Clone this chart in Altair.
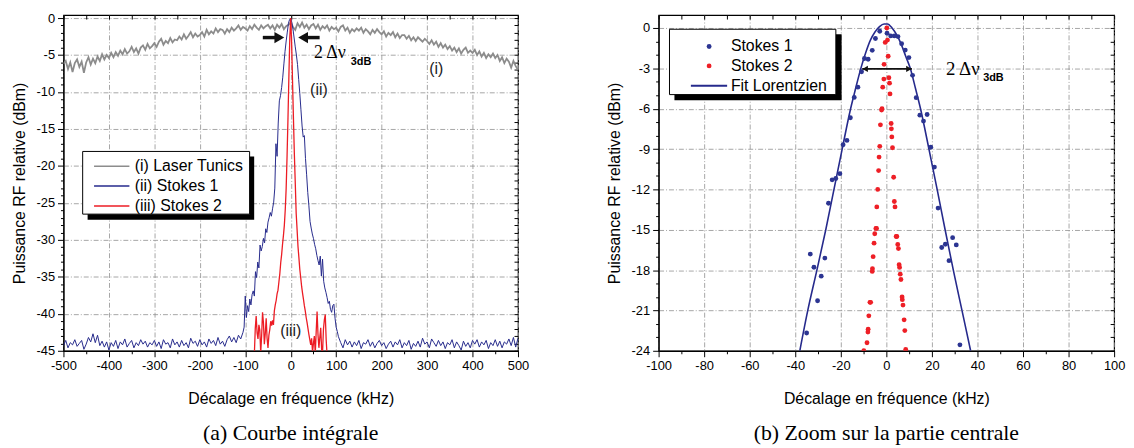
import altair as alt
import pandas as pd

SANS = "Liberation Sans"
SERIF = "Liberation Serif"
GRAY = "#8c8c8c"
BLUE = "#262a8c"
RED = "#ec1c24"
DOT_BLUE = "#2c3592"
DOT_RED = "#ee1f26"

# ---------------- panel (a) data ----------------
gray_khz = list(range(-500, 501, 5))
gray_db = [
    -6.2, -5.8, -6.9, -6.0, -7.3, -6.1, -5.6, -6.6, -5.9, -7.4,
    -6.0, -5.3, -6.3, -5.5, -6.1, -5.2, -5.8, -4.9, -5.6, -5.0,
    -5.4, -4.7, -5.3, -4.6, -5.1, -4.4, -4.9, -4.2, -4.8, -4.5,
    -3.9, -4.6, -4.1, -4.8, -4.0, -3.7, -4.3, -3.5, -4.1, -3.8,
    -3.4, -3.9, -3.2, -2.8, -3.6, -3.1, -3.4, -2.7, -3.3, -2.9,
    -3.0, -2.5, -2.9, -2.2, -2.8, -2.4, -1.9, -2.6, -2.1, -2.5,
    -2.3, -1.9, -2.5, -1.6, -2.2, -1.8, -2.1, -1.4, -1.9, -1.5,
    -1.6, -2.1, -1.5, -1.9, -1.3, -1.7, -1.4, -1.0, -1.6, -1.2,
    -1.4, -1.7, -1.1, -1.5, -0.9, -1.3, -1.6, -1.0, -1.4, -1.1,
    -0.9, -1.4, -1.0, -1.6, -0.9, -1.3, -0.8, -1.5, -1.1, -0.9,
    -0.6, -1.2, -1.6, -0.7, -1.2, -0.6, -1.3, -0.9, -1.5, -1.0,
    -0.8, -1.4, -0.9, -1.6, -1.1, -1.4, -1.0, -1.7, -1.2, -1.5,
    -1.3, -1.8, -1.2, -1.0, -1.7, -1.3, -2.0, -1.5, -1.8, -1.4,
    -1.7, -1.3, -2.0, -1.5, -1.8, -2.2, -1.6, -2.0, -1.5, -1.9,
    -2.2, -1.8, -2.5, -2.0, -2.3, -1.9, -2.6, -2.1, -2.7, -2.3,
    -2.3, -2.8, -2.4, -3.0, -2.6, -3.1, -2.6, -2.9, -3.2, -2.8,
    -3.1, -3.5, -3.0, -3.6, -3.2, -3.9, -3.4, -4.0, -3.6, -4.2,
    -3.8, -4.4, -4.0, -4.6, -4.1, -4.8, -4.3, -4.0, -4.7, -4.4,
    -4.7, -4.3, -5.0, -4.5, -5.2, -4.7, -5.4, -4.9, -5.3, -4.8,
    -5.4, -5.0, -5.8, -5.3, -6.1, -5.5, -5.9, -6.7, -5.8, -6.5,
    -7.0,
]

blue_left_khz = list(range(-500, -104, 5))
blue_left_db = [
    -44.3, -43.6, -44.6, -43.9, -44.2, -43.5, -44.4, -44.0, -43.6, -44.8,
    -44.1, -43.2, -43.8, -42.7, -43.9, -42.9, -44.3, -43.7, -44.5, -43.8,
    -44.9, -43.9, -44.4, -43.6, -44.7, -43.8, -44.2, -43.4, -44.5, -44.0,
    -43.6, -44.6, -43.9, -44.3, -43.5, -44.1, -43.7, -44.5, -43.9, -44.2,
    -43.6, -44.4, -43.8, -44.7, -43.5, -44.1, -43.9, -44.6, -43.4, -44.2,
    -43.8, -44.5, -43.6, -44.3, -43.9, -44.6, -43.3, -44.0, -43.7, -44.4,
    -43.5, -44.2, -43.8, -44.5, -43.4, -44.0, -43.6, -44.3, -43.2, -44.1,
    -43.7, -44.4, -43.5, -43.0, -43.8, -43.2, -43.9, -42.9, -43.4, -42.5,
]
blue_mid_khz = [i * 2.5 for i in range(-41, 42)]
blue_mid_db = [
    -41.8, -37.6, -40.5, -38.9, -39.7, -38.0, -38.8, -37.4, -36.9, -37.6,
    -34.3, -35.1, -33.0, -33.8, -30.7, -31.5, -30.9, -29.8, -30.4, -28.5,
    -29.0, -27.6, -27.0, -26.3, -26.8, -25.8, -24.9, -23.0, -17.0, -18.7,
    -14.2, -11.2, -10.5, -9.4, -8.0, -6.2, -4.5, -3.1, -1.9, -0.7,
    -0.2, 0.0, -0.6, -1.5, -2.7, -3.9, -5.0, -6.3, -8.3, -10.2,
    -12.4, -14.6, -16.1, -15.9, -19.0, -21.2, -23.6, -25.4, -27.5, -28.4,
    -29.2, -29.8, -30.6, -31.2, -32.1, -32.8, -33.4, -32.2, -34.9, -32.6,
    -35.6, -36.5, -37.1, -37.8, -38.6, -38.3, -39.4, -39.8, -38.9, -38.7,
    -40.6, -41.8, -42.4,
]
blue_right_khz = list(range(105, 501, 5))
blue_right_db = [
    -43.1, -43.9, -44.6, -43.5, -44.2, -43.7, -44.5, -43.8, -44.3, -43.6,
    -44.7, -43.9, -44.1, -43.5, -44.4, -43.8, -44.6, -44.0, -43.6, -44.3,
    -43.9, -44.7, -44.1, -43.7, -44.5, -43.8, -44.2, -43.5, -44.6, -43.9,
    -44.3, -43.6, -44.8, -44.0, -44.4, -43.7, -44.5, -43.3, -44.1, -43.8,
    -44.6, -43.4, -43.9, -44.4, -43.6, -44.3, -43.8, -44.7, -43.9, -44.2,
    -43.5, -44.6, -43.8, -44.3, -44.9, -43.7, -44.4, -43.9, -44.6, -43.6,
    -44.1, -43.5, -44.5, -43.8, -44.2, -43.6, -44.7, -43.9, -44.3, -43.5,
    -44.4, -43.7, -44.6, -43.8, -44.1, -43.4, -44.3, -43.2, -44.5, -43.3,
]
red_khz = list(range(-80, 81, 2))
red_db = [
    -45.5, -42.0, -40.3, -42.6, -43.4, -41.5, -42.2, -45.3, -43.0, -39.8,
    -41.2, -44.1, -42.7, -40.6, -43.3, -44.6, -42.9, -42.1, -41.0, -41.6,
    -40.9, -41.5, -39.6, -38.8, -38.2, -37.3, -36.8, -35.7, -34.6, -33.1,
    -32.0, -30.6, -29.4, -28.0, -25.9, -23.0, -18.6, -13.5, -7.8, -2.6,
    0.0, -3.4, -8.6, -13.6, -18.4, -22.3, -26.4, -28.6, -30.9, -32.4,
    -34.0, -35.1, -36.3, -37.2, -38.0, -38.9, -39.6, -40.5, -41.2, -42.0,
    -42.8, -43.5, -44.2, -43.3, -45.2, -44.0, -43.0, -45.4, -42.5, -39.7,
    -42.8, -44.6, -43.2, -41.9, -44.8, -45.3, -42.1, -40.8, -40.1, -43.5,
    -45.6,
]

legend_a_labels = ["(i) Laser Tunics", "(ii) Stokes 1", "(iii) Stokes 2"]
legend_a_colors = [GRAY, BLUE, RED]
tag_text = ["(i)", "(ii)", "(iii)"]
tag_khz = [320, 62, 0]
tag_db = [-6.9, -9.7, -42.3]
arrow_a_x = [-61.4, 27.2]
arrow_a_x2 = [-25.0, 63.6]
arrow_a_db = [-2.64, -2.64]
head_a_x = [-25.0, 27.2]
head_a_shape = ["triangle-right", "triangle-left"]
note_a_main = ["2 \u0394\u03bd"]
note_a_main_pos = [51.0, -4.78]
note_a_sub = ["3dB"]
note_a_sub_pos = [132.0, -5.98]

# ---------------- panel (b) data ----------------
s1_khz = [-35.0, -33.4, -31.8, -30.2, -28.6, -27.0, -25.4, -23.8, -22.2, -20.4,
          -19.0, -17.3, -15.8, -14.1, -12.5, -10.9, -9.6, -8.0, -6.2, -4.8,
          -2.9, 0.3, 1.9, 3.5, 5.1, 6.7, 8.3, 9.9, 11.5, 13.1,
          14.7, 16.3, 17.9, 19.5, 21.1, 22.7, 24.3, 25.9, 27.5, 29.1,
          30.7, 32.3]
s1_db = [-22.68, -16.81, -17.79, -20.28, -18.45, -17.11, -13.03, -11.29, -11.19, -10.83,
         -8.68, -8.36, -6.67, -5.16, -4.40, -3.25, -2.27, -2.32, -1.66, -0.78,
         -0.24, -0.39, -0.59, -0.59, -0.64, -1.17, -1.64, -2.20, -3.52, -5.18,
         -6.48, -6.92, -6.43, -8.87, -10.34, -13.39, -16.32, -16.08, -17.30, -15.59,
         -16.13, -23.56]
s2_khz = [0.2, -0.5, 0.5, 0.8, -1.0, 1.1, -1.1, 1.4, -1.6, 1.6,
          -1.9, -2.1, 2.1, 2.2, 2.4, 2.7, -2.6, -2.9, -3.2, -3.4,
          -3.8, -4.2, 3.2, 3.5, 3.8, -4.6, -4.3, -5.1, -5.4, -5.8,
          -6.1, -6.2, 4.3, 4.6, 5.0, 5.3, 5.6, 5.8, 6.1, 6.4,
          -7.2, -6.9, -7.7, -8.0, -8.1, -8.5, -9.9, 6.9, 7.0, 7.3,
          7.8, 8.1, 8.5]
s2_db = [0.0, -1.07, -0.90, -2.10, -2.70, -3.70, -3.80, -4.10, -4.40, -4.90,
         -6.00, -6.10, -7.10, -7.50, -8.10, -8.90, -7.20, -8.80, -9.60, -10.60,
         -12.00, -13.30, -11.10, -12.90, -13.30, -14.90, -14.90, -15.30, -16.00, -17.00,
         -17.90, -18.10, -15.50, -15.50, -16.10, -16.40, -17.60, -17.80, -18.30, -18.70,
         -20.40, -20.40, -21.40, -22.40, -22.60, -23.40, -24.00, -20.00, -20.20, -20.60,
         -21.70, -22.50, -23.90]
fit_khz = [-38.0, -34.5, -30.5, -26.6, -23.0, -19.4, -15.7, -13.5, -11.2, -9.0,
           -7.0, -5.0, -3.0, -1.0, 0.5, 2.5, 4.5, 6.5, 8.5, 10.5,
           12.8, 15.0, 18.7, 22.3, 25.8, 29.4, 33.2, 37.0]
fit_db = [-24.0, -21.0, -18.0, -15.0, -12.0, -9.0, -6.0, -4.5, -3.0, -1.8,
          -0.9, -0.3, 0.1, 0.3, 0.3, 0.0, -0.5, -1.2, -2.1, -3.0,
          -4.5, -6.0, -9.0, -12.0, -15.0, -18.0, -21.0, -24.0]
legend_b_labels = ["Stokes 1", "Stokes 2", "Fit Lorentzien"]
arrow_b_x = [-10.6]
arrow_b_x2 = [11.2]
arrow_b_db = [-3.04]
head_b_x = [-9.3, 9.9]
head_b_shape = ["triangle-left", "triangle-right"]
note_b_main = ["2 \u0394\u03bd"]
note_b_main_pos = [26.2, -3.04]
note_b_sub = ["3dB"]
note_b_sub_pos = [42.5, -3.7]

captions = ["(a)  Courbe int\u00e9grale", "(b)  Zoom sur la partie centrale"]
x_title = "D\u00e9calage en fr\u00e9quence (kHz)"
y_title = "Puissance RF relative (dBm)"

# ---------------- helpers ----------------
def cond(test, a, b):
    return {"condition": {"test": test, "value": a}, "value": b}


def main_axes(x_vals, x_major, y_vals, y_major):
    tx = f"datum.value % {x_major} === 0"
    ty = f"datum.value % {y_major} === 0"
    common = dict(
        grid=True, gridColor="#8f8f8f", gridDash=[5, 2, 1, 2], gridWidth=0.8,
        domain=True, domainColor="black", domainWidth=1.2,
        tickColor="black", tickWidth=1,
        labelFont=SANS, labelFontSize=13, labelColor="black",
        labelOverlap=False, labelFlush=False,
        titleFont=SANS, titleFontSize=16, titleFontWeight="normal", titleColor="black",
    )
    xa = alt.Axis(values=x_vals, orient="bottom",
                  labelExpr=f"{tx} ? '' + datum.value : ''",
                  tickSize=cond(tx, 6, 3), gridOpacity=cond(tx, 1, 0),
                  labelPadding=3, title=x_title, titlePadding=18, **common)
    ya = alt.Axis(values=y_vals, orient="left",
                  labelExpr=f"{ty} ? '' + datum.value : ''",
                  tickSize=cond(ty, 6, 3), gridOpacity=cond(ty, 1, 0),
                  labelPadding=3, title=y_title, titlePadding=9, **common)
    return xa, ya


def mirror_axes(x_vals, y_vals):
    common = dict(labels=False, ticks=True, tickSize=4, offset=-4, tickColor="black",
                  tickWidth=1, domain=False, grid=False, title=None)
    return (alt.Axis(values=x_vals, orient="top", **common),
            alt.Axis(values=y_vals, orient="right", **common))


def panel(width, height, xdom, ydom, x_vals, x_major, y_vals, y_major, data_layers, caption):
    xs = alt.Scale(domain=xdom, nice=False, zero=False)
    ys = alt.Scale(domain=ydom, nice=False, zero=False)
    xa, ya = main_axes(x_vals, x_major, y_vals, y_major)
    mx, my = mirror_axes(x_vals, y_vals)
    frame_df = pd.DataFrame({"khz": xdom, "db": ydom})
    base_axes = alt.Chart(frame_df).mark_point(opacity=0).encode(
        x=alt.X("khz:Q", scale=xs, axis=xa), y=alt.Y("db:Q", scale=ys, axis=ya))
    mirror = alt.Chart(frame_df).mark_point(opacity=0).encode(
        x=alt.X("khz:Q", scale=xs, axis=mx), y=alt.Y("db:Q", scale=ys, axis=my))
    layers = [base_axes, mirror] + [f(xs, ys) for f in data_layers]
    return alt.layer(*layers).resolve_axis(x="independent", y="independent").properties(
        width=width, height=height,
        title=alt.TitleParams(caption, orient="bottom", anchor="middle", font=SERIF,
                              fontSize=22, fontWeight="normal", color="black", offset=17))


def xy(xs, ys, xf="khz", yf="db"):
    return dict(x=alt.X(f"{xf}:Q", scale=xs, axis=None), y=alt.Y(f"{yf}:Q", scale=ys, axis=None))


# ---------------- panel (a) layers ----------------
gray_df = pd.DataFrame({"khz": gray_khz, "db": gray_db})
blue_df = pd.DataFrame({"khz": blue_left_khz + blue_mid_khz + blue_right_khz,
                        "db": blue_left_db + blue_mid_db + blue_right_db})
red_df = pd.DataFrame({"khz": red_khz, "db": red_db})
tags_df = pd.DataFrame({"khz": tag_khz, "db": tag_db, "t": tag_text})
shaft_a_df = pd.DataFrame({"khz": arrow_a_x, "khz2": arrow_a_x2, "db": arrow_a_db})
head_a_df = pd.DataFrame({"khz": head_a_x, "db": arrow_a_db, "shape": head_a_shape})


def line_layer(df, color, width):
    return lambda xs, ys: alt.Chart(df).mark_line(color=color, strokeWidth=width, clip=True).encode(**xy(xs, ys))


def text_layer(texts, pos, font, size, weight="normal", align="left"):
    df = pd.DataFrame({"khz": [pos[0]], "db": [pos[1]], "t": texts})
    return lambda xs, ys: alt.Chart(df).mark_text(
        font=font, fontSize=size, fontWeight=weight, color="black", align=align, baseline="middle"
    ).encode(text="t:N", **xy(xs, ys))


def legend_layers(box, shadow, rows, items):
    """box/shadow: (x, y, x2, y2) in pixels within the plot; items: (kind, color, label)."""
    out = []
    lab_df = pd.DataFrame({"t": [it[2] for it in items]})

    def sh(xs, ys):
        return alt.Chart(lab_df.head(1)).mark_rect(color="black").encode(
            x=alt.value(shadow[0]), x2=alt.value(shadow[2]), y=alt.value(shadow[1]), y2=alt.value(shadow[3]))

    def bx(xs, ys):
        return alt.Chart(lab_df.head(1)).mark_rect(fill="white", stroke="black", strokeWidth=1).encode(
            x=alt.value(box[0]), x2=alt.value(box[2]), y=alt.value(box[1]), y2=alt.value(box[3]))

    out += [sh, bx]
    for i, (kind, color, label) in enumerate(items):
        yrow = rows["y"][i]
        one = pd.DataFrame({"t": [label]})
        if kind == "line":
            out.append(lambda xs, ys, one=one, color=color, yrow=yrow: alt.Chart(one).mark_rule(
                color=color, strokeWidth=rows["lw"]).encode(
                x=alt.value(rows["l0"]), x2=alt.value(rows["l1"]), y=alt.value(yrow)))
        else:
            out.append(lambda xs, ys, one=one, color=color, yrow=yrow: alt.Chart(one).mark_point(
                filled=True, color=color, size=24, opacity=1).encode(
                x=alt.value(rows["dot"]), y=alt.value(yrow)))
        out.append(lambda xs, ys, one=one, yrow=yrow: alt.Chart(one).mark_text(
            font=SANS, fontSize=16, color="black", align="left", baseline="middle").encode(
            text="t:N", x=alt.value(rows["tx"]), y=alt.value(yrow)))
    return out


layers_a = [
    line_layer(gray_df, GRAY, 1.8),
    line_layer(blue_df, BLUE, 1.0),
    line_layer(red_df, RED, 1.3),
    lambda xs, ys: alt.Chart(tags_df).mark_text(font=SANS, fontSize=16, color="#222222",
                                                align="center", baseline="middle").encode(text="t:N", **xy(xs, ys)),
    lambda xs, ys: alt.Chart(shaft_a_df).mark_rule(color="#111111", strokeWidth=3.5).encode(
        x=alt.X("khz:Q", scale=xs, axis=None), x2="khz2:Q", y=alt.Y("db:Q", scale=ys, axis=None)),
    lambda xs, ys: alt.Chart(head_a_df).mark_point(filled=True, color="#111111", size=130, opacity=1).encode(
        shape=alt.Shape("shape:N", scale=None), **xy(xs, ys)),
    text_layer(note_a_main, note_a_main_pos, SERIF, 18),
    text_layer(note_a_sub, note_a_sub_pos, SANS, 11, "bold"),
]
layers_a += legend_layers(
    box=(19.4, 137.7, 188, 201), shadow=(24.4, 142.7, 192.6, 206.7),
    rows={"y": [152.7, 172.7, 192.7], "l0": 30.9, "l1": 66.6, "tx": 72, "dot": 48, "lw": 1.5},
    items=[("line", legend_a_colors[i], legend_a_labels[i]) for i in range(3)])

left = panel(459, 339, [-500, 500], [-45, 0.4], list(range(-500, 501, 50)), 100,
             list(range(-45, 1)), 5, layers_a, captions[0])

# ---------------- panel (b) layers ----------------
s1_df = pd.DataFrame({"khz": s1_khz, "db": s1_db})
s2_df = pd.DataFrame({"khz": s2_khz, "db": s2_db})
fit_df = pd.DataFrame({"khz": fit_khz, "db": fit_db})
shaft_b_df = pd.DataFrame({"khz": arrow_b_x, "khz2": arrow_b_x2, "db": arrow_b_db})
head_b_df = pd.DataFrame({"khz": head_b_x, "db": arrow_b_db * 2, "shape": head_b_shape})

layers_b = [
    lambda xs, ys: alt.Chart(fit_df).mark_line(color=BLUE, strokeWidth=1.6, clip=True,
                                               interpolate="monotone").encode(**xy(xs, ys)),
    lambda xs, ys: alt.Chart(s1_df).mark_point(filled=True, color=DOT_BLUE, size=24, opacity=1,
                                               clip=True).encode(**xy(xs, ys)),
    lambda xs, ys: alt.Chart(s2_df).mark_point(filled=True, color=DOT_RED, size=24, opacity=1,
                                               clip=True).encode(**xy(xs, ys)),
    lambda xs, ys: alt.Chart(shaft_b_df).mark_rule(color="#111111", strokeWidth=1.6).encode(
        x=alt.X("khz:Q", scale=xs, axis=None), x2="khz2:Q", y=alt.Y("db:Q", scale=ys, axis=None)),
    lambda xs, ys: alt.Chart(head_b_df).mark_point(filled=True, color="#111111", size=40, opacity=1).encode(
        shape=alt.Shape("shape:N", scale=None), **xy(xs, ys)),
    text_layer(note_b_main, note_b_main_pos, SERIF, 19),
    text_layer(note_b_sub, note_b_sub_pos, SANS, 11, "bold"),
]
layers_b += legend_layers(
    box=(11, 14.3, 179, 80.3), shadow=(16, 19.3, 184.8, 86),
    rows={"y": [31.7, 51.3, 71.3], "l0": 32.6, "l1": 69.2, "tx": 73, "dot": 51, "lw": 2},
    items=[("dot", DOT_BLUE, legend_b_labels[0]), ("dot", DOT_RED, legend_b_labels[1]),
           ("line", BLUE, legend_b_labels[2])])

right = panel(460, 339, [-100, 100], [-24, 0.96], list(range(-100, 101, 10)), 20,
              list(range(-24, 1)), 3, layers_b, captions[1])

chart = alt.hconcat(left, right, spacing=76).properties(
    padding={"left": 2, "top": 1, "right": 0, "bottom": 0}
).configure_view(stroke="black", strokeWidth=1.2)

chart.save("out.html", embed_options={"renderer": "svg", "actions": False})
